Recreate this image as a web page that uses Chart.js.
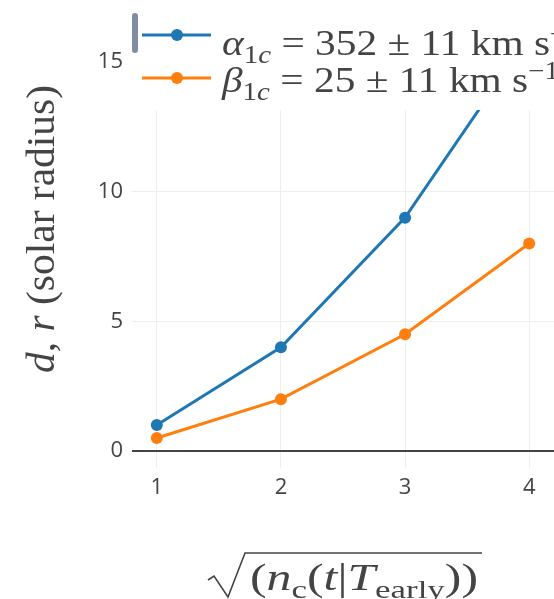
<!DOCTYPE html>
<html>
<head>
<meta charset="utf-8">
<script src="https://cdn.jsdelivr.net/npm/chart.js@4.4.1/dist/chart.umd.min.js"></script>
<style>
  html, body { margin: 0; padding: 0; background: #fff; overflow: hidden; }
  canvas { display: block; }
</style>
</head>
<body>
<canvas id="grafica" width="554" height="599"></canvas>
<script>
// Datos
const valoresX = [1, 2, 3, 4];
const serieAlfa = [1, 4, 9, 16];
const serieBeta = [0.5, 2, 4.5, 8];
const ticksX = [1, 2, 3, 4];
const ticksY = [0, 5, 10, 15];

const AZUL = '#1f77b4';
const NARANJA = '#ff7f0e';
const SERIF = '"Liberation Serif", "DejaVu Serif", serif';

function fuenteDe(tr, size) {
    const s = tr.sub || tr.sup ? size * 0.7 : size;
    return (tr.it ? 'italic ' : '') + s + 'px ' + SERIF;
}

// ancho natural de una lista de trozos
function medirMath(ctx, trozos, size) {
    let total = 0;
    trozos.forEach(tr => {
        ctx.font = fuenteDe(tr, size);
        total += ctx.measureText(tr.t).width;
    });
    return total;
}

// Dibuja un texto matematico hecho de trozos (normal, subindice, superindice)
function dibujarMath(ctx, trozos, x, y, size, sx) {
    ctx.save();
    ctx.translate(x, y);
    ctx.scale(sx, 1);
    ctx.fillStyle = '#444';
    ctx.textBaseline = 'alphabetic';
    ctx.textAlign = 'left';
    let cx = 0;
    trozos.forEach(tr => {
        ctx.font = fuenteDe(tr, size);
        let dy = 0;
        if (tr.sub) dy = size * 0.22;
        if (tr.sup) dy = -size * 0.38;
        ctx.fillText(tr.t, cx, dy);
        cx += ctx.measureText(tr.t).width;
    });
    ctx.restore();
    return cx * sx;
}

const leyenda1 = [
    { t: 'α', it: true }, { t: '1', sub: true }, { t: 'c', sub: true, it: true },
    { t: ' = 352 ± 11 km s' }, { t: '−1', sup: true }
];
const leyenda2 = [
    { t: 'β', it: true }, { t: '1', sub: true }, { t: 'c', sub: true, it: true },
    { t: ' = 25 ± 11 km s' }, { t: '−1', sup: true }
];
const tituloY = [
    { t: 'd', it: true }, { t: ', ' }, { t: 'r', it: true }, { t: ' (solar radius)' }
];
const tituloX = [
    { t: '(' }, { t: 'n', it: true }, { t: 'c', sub: true }, { t: '(' }, { t: 't', it: true },
    { t: '|' }, { t: 'T', it: true }, { t: 'early', sub: true }, { t: '))' }
];

// Plugin para leyenda y titulos de ejes
const extras = {
    id: 'extras',
    afterLayout(chart) {
        // el area llega hasta el borde derecho, como en la figura recortada
        const a = chart.chartArea;
        a.right = chart.width;
        a.width = a.right - a.left;
        const x = chart.scales.x;
        x.right = chart.width;
        x.width = x.right - x.left;
        x.configure();
    },
    afterDraw(chart) {
        const ctx = chart.ctx;

        // fondo de la leyenda
        ctx.save();
        ctx.fillStyle = '#fff';
        ctx.fillRect(129, 4, 430, 106);

        // barra de scroll
        ctx.fillStyle = '#808ba4';
        ctx.beginPath();
        ctx.roundRect(132, 13, 6, 40, 3);
        ctx.fill();

        // muestras de la leyenda
        [[AZUL, 35], [NARANJA, 78]].forEach(([color, y]) => {
            ctx.strokeStyle = color;
            ctx.lineWidth = 3;
            ctx.beginPath();
            ctx.moveTo(142, y);
            ctx.lineTo(211, y);
            ctx.stroke();
            ctx.fillStyle = color;
            ctx.beginPath();
            ctx.arc(177, y, 6, 0, Math.PI * 2);
            ctx.fill();
        });
        ctx.restore();

        // misma escala horizontal para las dos lineas de la leyenda
        const sLey = 328 / medirMath(ctx, leyenda1.slice(0, 4), 35);
        dibujarMath(ctx, leyenda1, 222, 55, 35, sLey);
        dibujarMath(ctx, leyenda2, 222, 92, 35, sLey);

        // titulo eje Y (rotado)
        ctx.save();
        ctx.translate(54, 373);
        ctx.rotate(-Math.PI / 2);
        dibujarMath(ctx, tituloY, 0, 0, 39, 288 / medirMath(ctx, tituloY, 39));
        ctx.restore();

        // titulo eje X con raiz
        const w = dibujarMath(ctx, tituloX, 250, 590, 37, 228 / medirMath(ctx, tituloX, 37));
        ctx.save();
        ctx.strokeStyle = '#444';
        ctx.lineWidth = 1.6;
        ctx.beginPath();
        ctx.moveTo(208, 580);
        ctx.lineTo(214, 576);
        ctx.lineTo(228, 597);
        ctx.lineTo(245, 553);
        ctx.lineTo(250 + w + 4, 553);
        ctx.stroke();
        ctx.restore();
    }
};

const fuenteTicks = { family: '"Open Sans", sans-serif', size: 22 };

// sin margenes extra de las escalas, el area del grafico la fija layout.padding
function sinMargenes(s, tam) {
    if (s.isHorizontal()) s.height = tam; else s.width = tam;
    s.paddingTop = 0;
    s.paddingBottom = 0;
    s.paddingLeft = 0;
    s.paddingRight = 0;
}

const grafica = new Chart(document.getElementById('grafica').getContext('2d'), {
    type: 'line',
    data: {
        datasets: [
            {
                label: 'alfa',
                data: valoresX.map((x, i) => ({ x: x, y: serieAlfa[i] })),
                borderColor: AZUL,
                backgroundColor: AZUL,
                borderWidth: 3,
                pointRadius: 6,
                pointBorderWidth: 0
            },
            {
                label: 'beta',
                data: valoresX.map((x, i) => ({ x: x, y: serieBeta[i] })),
                borderColor: NARANJA,
                backgroundColor: NARANJA,
                borderWidth: 3,
                pointRadius: 6,
                pointBorderWidth: 0
            }
        ]
    },
    options: {
        responsive: false,
        animation: false,
        devicePixelRatio: 1,
        layout: { padding: { top: 19, right: 0, left: 0, bottom: 0 } },
        plugins: {
            legend: { display: false },
            tooltip: { enabled: false }
        },
        scales: {
            x: {
                type: 'linear',
                min: 0.8,
                max: 4.2,
                afterBuildTicks: (s) => { s.ticks = ticksX.map(v => ({ value: v })); },
                afterFit: (s) => sinMargenes(s, 131),
                border: { display: false },
                grid: { color: '#eee', lineWidth: 1, drawTicks: false },
                ticks: { padding: 7, color: '#444', font: fuenteTicks }
            },
            y: {
                type: 'linear',
                min: -0.655,
                max: 16.66,
                afterBuildTicks: (s) => { s.ticks = ticksY.map(v => ({ value: v })); },
                afterFit: (s) => sinMargenes(s, 132),
                border: { display: false },
                grid: {
                    color: (c) => c.tick && c.tick.value === 0 ? '#444' : '#eee',
                    lineWidth: (c) => c.tick && c.tick.value === 0 ? 2 : 1,
                    drawTicks: false
                },
                ticks: { padding: 9, color: '#444', font: fuenteTicks }
            }
        }
    },
    plugins: [extras]
});
</script>
</body>
</html>
